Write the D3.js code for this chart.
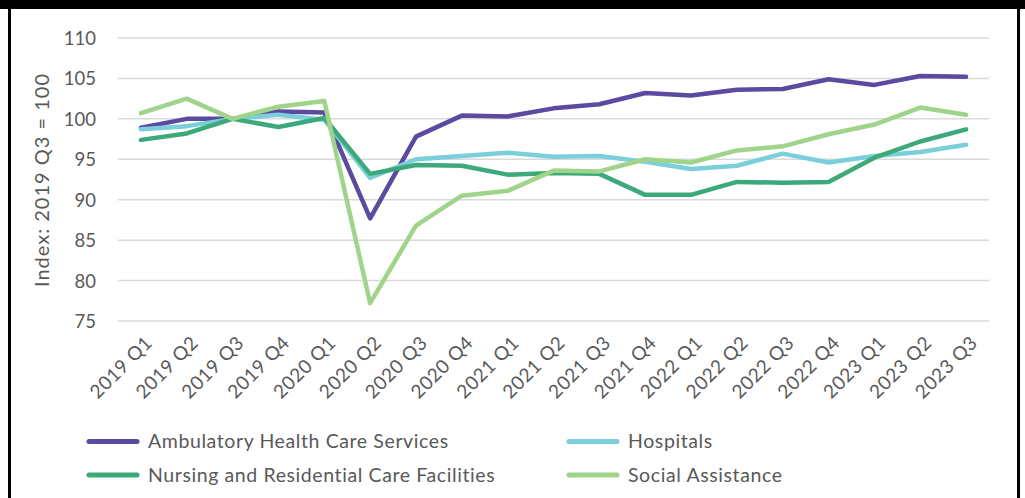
<!DOCTYPE html>
<html>
<head>
<meta charset="utf-8">
<script src="https://cdn.jsdelivr.net/npm/d3@7"></script>
<style>
  html, body { margin: 0; padding: 0; background: #fff; }
  svg { display: block; }
  text { font-family: Lato, "Open Sans", sans-serif; fill: #595959; }
</style>
</head>
<body>
<svg id="chart" width="1025" height="498"></svg>
<script>
// Quarterly index values, 2019 Q3 = 100
const quarters = ["2019 Q1","2019 Q2","2019 Q3","2019 Q4","2020 Q1","2020 Q2","2020 Q3","2020 Q4",
  "2021 Q1","2021 Q2","2021 Q3","2021 Q4","2022 Q1","2022 Q2","2022 Q3","2022 Q4","2023 Q1","2023 Q2","2023 Q3"];
const ambulatory = [98.9,100.0,100.0,100.9,100.8,87.7,97.8,100.4,100.3,101.3,101.8,103.2,102.9,103.6,103.7,104.9,104.2,105.3,105.2];
const hospitals  = [98.7,99.1,100.0,100.5,99.9,92.7,95.0,95.4,95.8,95.3,95.4,94.7,93.8,94.2,95.7,94.6,95.4,95.9,96.8];
const nursing    = [97.4,98.2,100.0,99.0,100.1,93.2,94.3,94.2,93.1,93.3,93.2,90.6,90.6,92.2,92.1,92.2,95.2,97.2,98.7];
const social     = [100.7,102.5,100.0,101.5,102.2,77.2,86.8,90.5,91.1,93.6,93.5,95.0,94.6,96.1,96.6,98.1,99.3,101.4,100.5];
const yTicks = [75,80,85,90,95,100,105,110];
const seriesNames = ["Ambulatory Health Care Services","Hospitals","Nursing and Residential Care Facilities","Social Assistance"];
const seriesColors = ["#5b4a9f","#7acfda","#3ca97a","#a0d48b"];

const series = [ambulatory, hospitals, nursing, social].map((values, i) => ({
  name: seriesNames[i], color: seriesColors[i], values
}));

const svg = d3.select("#chart");

// Frame
svg.append("rect").attr("x", 0).attr("y", 0).attr("width", 1025).attr("height", 9).attr("fill", "#000");
svg.append("rect").attr("x", 8).attr("y", 0).attr("width", 3).attr("height", 498).attr("fill", "#000");
svg.append("rect").attr("x", 1017).attr("y", 0).attr("width", 3).attr("height", 498).attr("fill", "#000");

const plot = { left: 118, right: 989, top: 38, bottom: 321 };

const x = d3.scalePoint().domain(quarters).range([plot.left, plot.right]).padding(0.5);
const y = d3.scaleLinear().domain([75, 110]).range([plot.bottom, plot.top]);

// Gridlines
svg.append("g")
  .selectAll("line").data(yTicks).join("line")
  .attr("x1", plot.left).attr("x2", plot.right)
  .attr("y1", d => y(d)).attr("y2", d => y(d))
  .attr("stroke", "#d9d9d9").attr("stroke-width", 1.5);

// Y axis labels
const yAxis = svg.append("g").attr("transform", `translate(${plot.left - 22},0)`)
  .call(d3.axisLeft(y).tickValues(yTicks).tickSize(0).tickPadding(0));
yAxis.select(".domain").remove();
yAxis.selectAll("text").style("font-size", "18.5px").attr("fill", "#595959").attr("dy", "0.35em");

// Y axis title
svg.append("text")
  .attr("transform", `translate(49,180) rotate(-90)`)
  .attr("text-anchor", "middle")
  .style("font-size", "20px")
  .style("letter-spacing", "1px")
  .text("Index: 2019 Q3 = 100");

// X axis labels
const xAxis = svg.append("g").attr("transform", `translate(0,${plot.bottom + 13})`)
  .call(d3.axisBottom(x).tickSize(0).tickPadding(0));
xAxis.select(".domain").remove();
xAxis.selectAll("text")
  .style("font-size", "19px").style("letter-spacing", "0.5px").attr("fill", "#595959")
  .attr("text-anchor", "end")
  .attr("dy", "0.75em")
  .attr("transform", "translate(2,0) rotate(-45)");

// Lines
const line = d3.line().x((d, i) => x(quarters[i])).y(d => y(d));
svg.append("g").selectAll("path").data(series).join("path")
  .attr("d", d => line(d.values))
  .attr("fill", "none")
  .attr("stroke", d => d.color)
  .attr("stroke-width", 4.5)
  .attr("stroke-linejoin", "round")
  .attr("stroke-linecap", "round");

// Legend
const legendPos = [[87, 441.5], [567, 441.5], [87, 475], [567, 475]];
const legend = svg.append("g").selectAll("g").data(series).join("g")
  .attr("transform", (d, i) => `translate(${legendPos[i][0]},${legendPos[i][1]})`);
legend.append("line").attr("x1", 2).attr("x2", 50).attr("y1", 0).attr("y2", 0)
  .attr("stroke", d => d.color).attr("stroke-width", 5).attr("stroke-linecap", "round");
legend.append("text").attr("x", 61).attr("dy", "0.35em")
  .style("font-size", "19.5px")
  .style("letter-spacing", "0.6px")
  .text(d => d.name);
</script>
</body>
</html>
